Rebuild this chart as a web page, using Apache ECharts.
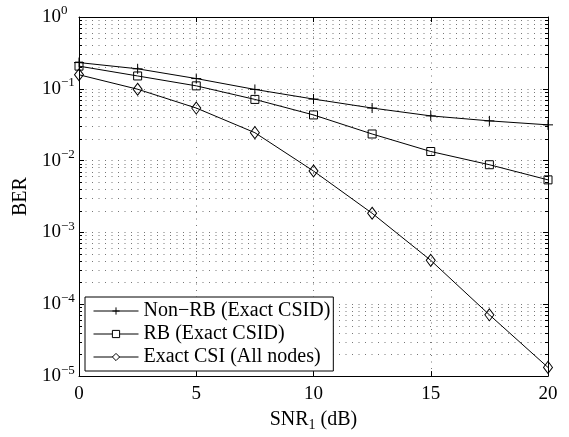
<!DOCTYPE html>
<html>
<head>
<meta charset="utf-8">
<script src="https://cdn.jsdelivr.net/npm/echarts@6/dist/echarts.min.js"></script>
<style>
  html, body { margin: 0; padding: 0; background: #fff; }
  #chart { width: 569px; height: 437px; }
</style>
</head>
<body>
<div id="chart"></div>
<script>
// 数据
var snr = [0, 2.5, 5, 7.5, 10, 12.5, 15, 17.5, 20];
var nonRb = [0.232, 0.19, 0.139, 0.098, 0.072, 0.054, 0.042, 0.0358, 0.0315];
var rb = [0.207, 0.151, 0.11, 0.0712, 0.0433, 0.0235, 0.0134, 0.00877, 0.0054];
var exactCsi = [0.157, 0.0987, 0.054, 0.0245, 0.00717, 0.00185, 0.000409, 0.0000714, 0.0000132];
var seriesNames = ['Non\u2212RB (Exact CSID)', 'RB (Exact CSID)', 'Exact CSI (All nodes)'];
var xTicks = [0, 5, 10, 15, 20];

var FONT = '"Liberation Serif", "DejaVu Serif", serif';

function pairs(ys) {
  return snr.map(function (x, i) { return [x, ys[i]]; });
}

var chartDom = document.getElementById('chart');
var myChart = echarts.init(chartDom);

// 网格点线
var dotted = { color: '#777', width: 1, type: [1, 5.5] };

var option = {
  animation: false,
  grid: {
    left: 79,
    right: 21,
    top: 17,
    bottom: 57,
    show: false
  },
  legend: {
    data: seriesNames,
    orient: 'vertical',
    left: 85,
    top: 297,
    backgroundColor: '#fff',
    borderColor: '#000',
    borderWidth: 1,
    borderRadius: 0,
    padding: [4, 3, 4, 8],
    itemGap: 3,
    itemWidth: 45,
    itemHeight: 9,
    lineStyle: { width: 1, color: '#000' },
    itemStyle: { color: '#fff', borderColor: '#000', borderWidth: 1 },
    textStyle: {
      color: '#000',
      fontSize: 20,
      lineHeight: 20,
      fontFamily: FONT
    }
  },
  xAxis: [
    {
      type: 'value',
      min: 0,
      max: 20,
      interval: 5,
      name: '{n|SNR}{sub|1}{n| (dB)}',
      nameLocation: 'middle',
      nameGap: 27,
      nameTextStyle: {
        rich: {
          n: { fontSize: 20, lineHeight: 20, fontFamily: FONT, color: '#000', verticalAlign: 'top' },
          sub: { fontSize: 14, lineHeight: 14, fontFamily: FONT, color: '#000', padding: [10, 0, 0, 0] }
        }
      },
      axisLine: { show: true, onZero: false, lineStyle: { color: '#000', width: 1 } },
      axisTick: { show: true, inside: true, length: 5, lineStyle: { color: '#000' } },
      axisLabel: {
        color: '#000',
        fontSize: 19,
        fontFamily: FONT,
        margin: 8,
        formatter: function (v) { return xTicks.indexOf(v) >= 0 ? String(v) : ''; }
      },
      splitLine: { show: true, lineStyle: dotted }
    },
    {
      type: 'value',
      position: 'top',
      min: 0,
      max: 20,
      interval: 5,
      axisLine: { show: true, onZero: false, lineStyle: { color: '#000', width: 1 } },
      axisTick: { show: true, inside: true, length: 5, lineStyle: { color: '#000' } },
      axisLabel: { show: false },
      splitLine: { show: false }
    }
  ],
  yAxis: [
    {
      type: 'log',
      logBase: 10,
      min: 1e-5,
      max: 1,
      name: 'BER',
      nameLocation: 'middle',
      nameGap: 46,
      nameTextStyle: { color: '#000', fontSize: 20, fontFamily: FONT },
      axisLine: { show: true, onZero: false, lineStyle: { color: '#000', width: 1 } },
      axisTick: { show: true, inside: true, length: 5, lineStyle: { color: '#000' } },
      minorTick: { show: true, splitNumber: 9, length: 3, lineStyle: { color: '#000' } },
      axisLabel: {
        align: 'left',
        margin: 37,
        formatter: function (v) {
          var e = Math.round(Math.log(v) / Math.LN10);
          return '{b|10}{s|' + (e < 0 ? '\u2212' + (-e) : e) + '}';
        },
        rich: {
          b: { fontSize: 19, lineHeight: 25, fontFamily: FONT, color: '#000', verticalAlign: 'middle' },
          s: { fontSize: 13, lineHeight: 13, fontFamily: FONT, color: '#000', verticalAlign: 'top' }
        }
      },
      splitLine: { show: true, lineStyle: dotted },
      minorSplitLine: { show: true, lineStyle: dotted }
    },
    {
      type: 'log',
      logBase: 10,
      min: 1e-5,
      max: 1,
      position: 'right',
      axisLine: { show: true, onZero: false, lineStyle: { color: '#000', width: 1 } },
      axisTick: { show: true, inside: true, length: 5, lineStyle: { color: '#000' } },
      minorTick: { show: true, splitNumber: 9, length: 3, lineStyle: { color: '#000' } },
      axisLabel: { show: false },
      splitLine: { show: false }
    }
  ],
  series: [
    {
      name: seriesNames[0],
      type: 'line',
      data: pairs(nonRb),
      symbol: 'path://M5,0L5,10M0,5L10,5',
      symbolSize: 10,
      clip: false,
      lineStyle: { color: '#000', width: 1 },
      itemStyle: { color: 'transparent', borderColor: '#000', borderWidth: 1 }
    },
    {
      name: seriesNames[1],
      type: 'line',
      data: pairs(rb),
      symbol: 'rect',
      symbolSize: 8,
      clip: false,
      lineStyle: { color: '#000', width: 1 },
      itemStyle: { color: 'transparent', borderColor: '#000', borderWidth: 1 }
    },
    {
      name: seriesNames[2],
      type: 'line',
      data: pairs(exactCsi),
      symbol: 'diamond',
      symbolSize: [9, 12],
      clip: false,
      lineStyle: { color: '#000', width: 1 },
      itemStyle: { color: 'transparent', borderColor: '#000', borderWidth: 1 }
    }
  ]
};

myChart.setOption(option);
window.addEventListener('resize', function () {
  myChart.resize();
});
</script>
</body>
</html>
